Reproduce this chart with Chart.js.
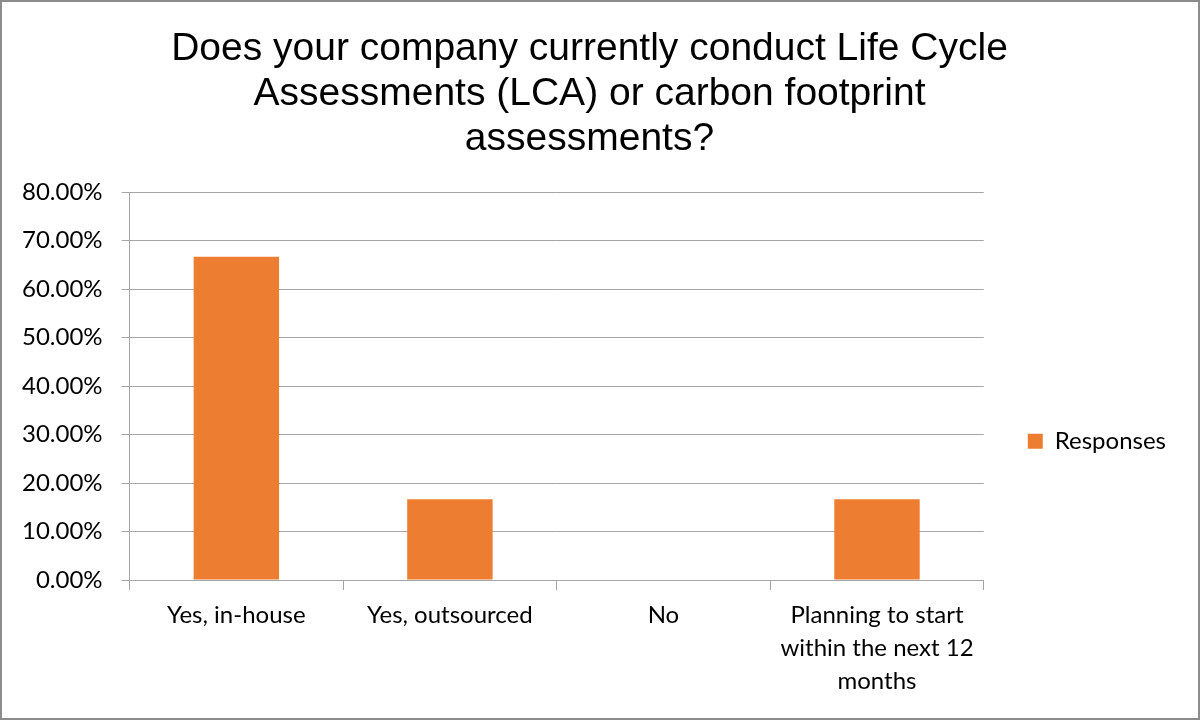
<!DOCTYPE html>
<html lang="en">
<head>
    <meta charset="UTF-8">
    <title>LCA survey</title>
    <script src="https://cdn.jsdelivr.net/npm/chart.js@4.4.0/dist/chart.umd.min.js"></script>
    <style>
        body { margin: 0; background: #fff; }
        .frame {
            width: 1200px;
            height: 720px;
            box-sizing: border-box;
            border: 2px solid #8c8c8c;
            position: relative;
        }
    </style>
</head>
<body>
    <div class="frame">
        <canvas id="myChart"></canvas>
    </div>

<script>
    // survey answers and share of responses
    let categories = [
        'Yes, in-house',
        'Yes, outsourced',
        'No',
        ['Planning to start', 'within the next 12', 'months']
    ];
    let responses = [0.6667, 0.1667, 0, 0.1667];
    let titleLines = [
        'Does your company currently conduct Life Cycle',
        'Assessments (LCA) or carbon footprint',
        'assessments?'
    ];

    let ctx = document.getElementById('myChart').getContext('2d');
    let sans = 'Lato, "Open Sans", sans-serif';

    new Chart(ctx, {
        type: 'bar',
        data: {
            labels: categories,
            datasets: [{
                label: 'Responses',
                data: responses,
                backgroundColor: '#ed7d31',
                barPercentage: 0.8,
                categoryPercentage: 0.5
            }]
        },
        options: {
            responsive: true,
            maintainAspectRatio: false,
            animation: false,
            layout: { padding: { left: 1, right: 22, top: 10, bottom: 11 } },
            plugins: {
                title: {
                    display: true,
                    text: titleLines,
                    color: '#000',
                    font: { family: '"Liberation Sans", Arial, sans-serif', size: 39, weight: 'normal', lineHeight: 1.154 },
                    padding: { top: 15, bottom: 30 }
                },
                legend: {
                    position: 'right',
                    // empty legend title only used to push the entry down
                    title: { display: true, text: '', padding: { top: 149, bottom: 0 } },
                    labels: {
                        color: '#000',
                        font: { family: sans, size: 24 },
                        boxWidth: 15,
                        boxHeight: 15,
                        padding: 44
                    }
                },
                tooltip: { enabled: false }
            },
            scales: {
                y: {
                    min: 0,
                    max: 0.8,
                    ticks: {
                        stepSize: 0.1,
                        color: '#000',
                        font: { family: sans, size: 24 },
                        padding: 19,
                        callback: v => (v * 100).toFixed(2) + '%'
                    },
                    grid: { color: '#a6a6a6', tickLength: 8, lineWidth: 1 },
                    border: { color: '#a6a6a6' }
                },
                x: {
                    ticks: {
                        color: '#000',
                        font: { family: sans, size: 24, lineHeight: 1.375 },
                        padding: 9,
                        maxRotation: 0
                    },
                    grid: { color: '#a6a6a6', drawOnChartArea: false, tickLength: 10, offset: true },
                    border: { color: '#a6a6a6' }
                }
            }
        }
    });
</script>
</body>
</html>
